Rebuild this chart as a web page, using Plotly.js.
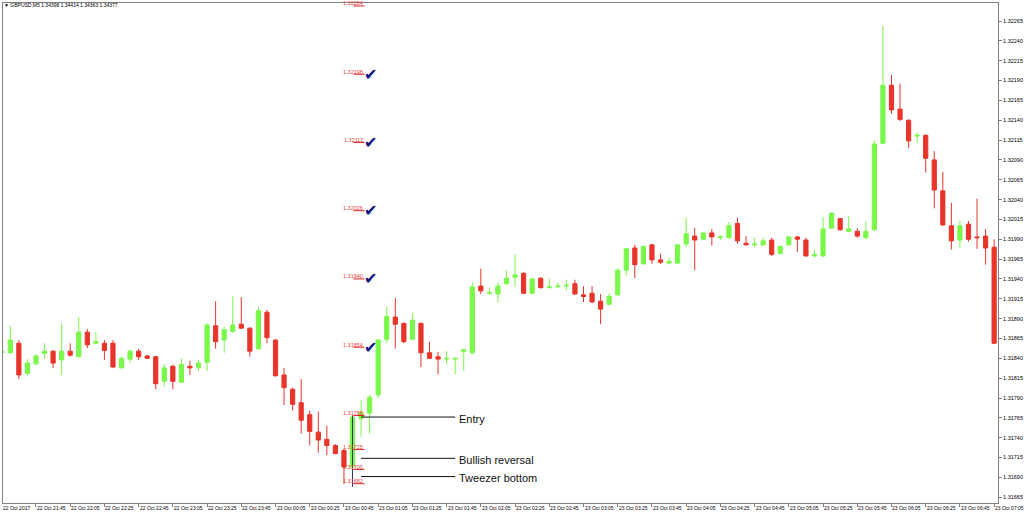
<!DOCTYPE html>
<html><head><meta charset="utf-8">
<script src="https://cdn.plot.ly/plotly-3.0.1.min.js"></script>
<style>html,body{margin:0;padding:0;background:#fff;}#chart{width:1024px;height:515px;}</style>
</head><body><div id="chart"></div>
<script>
const symbolTitle = '▼ GBPUSD,M5 1.34398 1.34414 1.34363 1.34377';

const opens = [
1.31847,1.31847,1.31859,1.31821,1.31833,1.31846,1.31849,1.31838,1.31849,1.31842,
1.31873,1.31859,1.31859,1.31859,1.31828,1.31839,1.31849,1.31843,1.31842,1.31811,
1.31830,1.31810,1.31830,1.31828,1.31835,1.31881,1.31863,1.31874,1.31883,1.31878,
1.31852,1.31898,1.31863,1.31819,1.31801,1.31784,1.31769,1.31747,1.31738,1.31730,
1.31724,1.31703,1.31764,1.31771,1.31794,1.31864,1.31892,1.31884,1.31864,1.31884,
1.31847,1.31842,1.31839,1.31839,1.31849,1.31847,1.31931,1.31922,1.31921,1.31934,
1.31942,1.31947,1.31922,1.31941,1.31929,1.31930,1.31931,1.31934,1.31920,1.31922,
1.31912,1.31908,1.31920,1.31951,1.31979,1.31959,1.31983,1.31964,1.31960,1.31960,
1.31984,1.31994,1.31990,1.31998,1.31992,1.31992,1.32010,1.31985,1.31983,1.31983,
1.31989,1.31972,1.31983,1.31993,1.31989,1.31969,1.31969,1.32004,1.32016,1.32000,
1.32000,1.31992,1.32002,1.32111,1.32184,1.32154,1.32140,1.32120,1.32121,1.32090,
1.32051,1.32007,1.31989,1.32009,1.31993,1.31994,1.31980];
const highs = [
1.31851,1.31881,1.31863,1.31839,1.31845,1.31859,1.31850,1.31884,1.31859,1.31892,
1.31877,1.31873,1.31863,1.31863,1.31842,1.31851,1.31852,1.31844,1.31843,1.31833,
1.31832,1.31840,1.31837,1.31838,1.31884,1.31912,1.31880,1.31918,1.31917,1.31879,
1.31905,1.31901,1.31864,1.31828,1.31803,1.31814,1.31774,1.31773,1.31755,1.31732,
1.31726,1.31768,1.31787,1.31794,1.31864,1.31905,1.31916,1.31885,1.31897,1.31885,
1.31861,1.31848,1.31849,1.31841,1.31852,1.31936,1.31953,1.31929,1.31936,1.31951,
1.31971,1.31949,1.31941,1.31942,1.31940,1.31935,1.31939,1.31939,1.31931,1.31931,
1.31921,1.31922,1.31954,1.31979,1.31983,1.31982,1.31984,1.31972,1.31967,1.31984,
1.32017,1.32004,1.31999,1.32003,1.31995,1.32012,1.32017,1.31994,1.31992,1.31992,
1.31992,1.31982,1.31994,1.31994,1.31992,1.31977,1.32018,1.32024,1.32017,1.32019,
1.32004,1.32012,1.32115,1.32259,1.32197,1.32186,1.32141,1.32125,1.32122,1.32101,
1.32075,1.32036,1.32014,1.32013,1.32041,1.32003,1.31990];
const lows = [
1.31846,1.31846,1.31814,1.31818,1.31831,1.31839,1.31828,1.31819,1.31842,1.31841,
1.31853,1.31858,1.31838,1.31828,1.31827,1.31834,1.31838,1.31839,1.31801,1.31804,
1.31801,1.31809,1.31819,1.31824,1.31824,1.31852,1.31847,1.31872,1.31877,1.31842,
1.31851,1.31859,1.31817,1.31781,1.31774,1.31745,1.31730,1.31721,1.31718,1.31719,
1.31682,1.31682,1.31741,1.31745,1.31790,1.31859,1.31852,1.31859,1.31863,1.31829,
1.31839,1.31820,1.31832,1.31820,1.31824,1.31845,1.31921,1.31920,1.31910,1.31932,
1.31930,1.31921,1.31921,1.31928,1.31928,1.31928,1.31926,1.31920,1.31911,1.31910,
1.31883,1.31907,1.31918,1.31944,1.31941,1.31958,1.31959,1.31959,1.31958,1.31959,
1.31980,1.31951,1.31989,1.31982,1.31989,1.31990,1.31984,1.31982,1.31980,1.31982,
1.31969,1.31971,1.31982,1.31974,1.31968,1.31967,1.31968,1.32003,1.32001,1.31999,
1.31992,1.31990,1.32000,1.32110,1.32148,1.32139,1.32105,1.32111,1.32074,1.32029,
1.32007,1.31977,1.31979,1.31987,1.31978,1.31958,1.31858];
const closes = [
1.31849,1.31863,1.31819,1.31834,1.31843,1.31849,1.31834,1.31849,1.31844,1.31873,
1.31857,1.31861,1.31850,1.31829,1.31840,1.31849,1.31842,1.31840,1.31808,1.31828,
1.31811,1.31832,1.31828,1.31834,1.31882,1.31861,1.31876,1.31882,1.31878,1.31849,
1.31900,1.31866,1.31818,1.31803,1.31782,1.31762,1.31748,1.31737,1.31730,1.31720,
1.31703,1.31766,1.31772,1.31791,1.31863,1.31893,1.31883,1.31861,1.31888,1.31847,
1.31840,1.31839,1.31840,1.31840,1.31851,1.31930,1.31925,1.31923,1.31931,1.31941,
1.31945,1.31922,1.31940,1.31929,1.31930,1.31931,1.31932,1.31921,1.31918,1.31911,
1.31902,1.31918,1.31951,1.31978,1.31958,1.31981,1.31964,1.31961,1.31962,1.31983,
1.31997,1.31989,1.31998,1.31993,1.31993,1.32007,1.31988,1.31983,1.31984,1.31988,
1.31971,1.31981,1.31993,1.31990,1.31969,1.31971,1.32003,1.32023,1.32002,1.32003,
1.31994,1.32000,1.32110,1.32184,1.32153,1.32141,1.32114,1.32121,1.32092,1.32052,
1.32008,1.31988,1.32007,1.31990,1.31992,1.31979,1.31859];

const timeLabels = ["22 Oct 2017","22 Oct 21:45","22 Oct 22:05","22 Oct 22:25","22 Oct 22:45","22 Oct 23:05","22 Oct 23:25","22 Oct 23:45","23 Oct 00:05","23 Oct 00:25","23 Oct 00:45","23 Oct 01:05","23 Oct 01:25","23 Oct 01:45","23 Oct 02:05","23 Oct 02:25","23 Oct 02:45","23 Oct 03:05","23 Oct 03:25","23 Oct 03:45","23 Oct 04:05","23 Oct 04:25","23 Oct 04:45","23 Oct 05:05","23 Oct 05:25","23 Oct 05:45","23 Oct 06:05","23 Oct 06:25","23 Oct 06:45","23 Oct 07:05"];
const timeLabelIdx = [0,4,8,12,16,20,24,28,32,36,40,44,48,52,56,60,64,68,72,76,80,84,88,92,96,100,104,108,112,116];

const yTickVals = [1.31665,1.31690,1.31715,1.31740,1.31765,1.31790,1.31815,1.31840,1.31865,1.31890,1.31915,1.31940,1.31965,1.31990,1.32015,1.32040,1.32065,1.32090,1.32115,1.32140,1.32165,1.32190,1.32215,1.32240,1.32265];

const levelValues = [1.32284,1.32198,1.32112,1.32026,1.31940,1.31854,1.31768,1.31725,1.31700,1.31682];
const levelChecked = [false,true,true,true,true,true,false,false,false,false];

const calloutTexts = ['Entry','Bullish reversal','Tweezer bottom'];
const calloutPrices = [1.31766,1.31714,1.31691];
const signalBar = 41;

const GREEN = '#7AF84A', RED = '#E8342A';
const FONT = 'Liberation Sans, Arial, sans-serif';
const xRange = [0.146, 116.45];
const xs = opens.map((_, i) => i);

const trace = {
  type: 'candlestick', x: xs, open: opens, high: highs, low: lows, close: closes,
  increasing: {line: {color: GREEN, width: 1}, fillcolor: GREEN},
  decreasing: {line: {color: RED, width: 1}, fillcolor: RED},
  whiskerwidth: 0, hoverinfo: 'skip', showlegend: false
};

const annotations = [];
const shapes = [];
const toPaper = v => (v - xRange[0]) / (xRange[1] - xRange[0]);

timeLabels.forEach((t, k) => {
  annotations.push({xref: 'paper', yref: 'paper', x: toPaper(timeLabelIdx[k]), y: 0,
    xanchor: 'left', yanchor: 'top', yshift: -1, xshift: 0, borderpad: 0, showarrow: false,
    text: t, font: {family: FONT, size: 5, color: '#000'}});
});

levelValues.forEach((v, k) => {
  annotations.push({xref: 'x', yref: 'y', x: 42.4, y: v, xanchor: 'right', yanchor: 'middle',
    yshift: 2.5, borderpad: 0, showarrow: false, text: v.toFixed(5),
    font: {family: FONT, size: 5.5, color: '#F03C3C'}});
  shapes.push({type: 'line', xref: 'x', yref: 'y', x0: 41.1, x1: 42.4, y0: v, y1: v,
    line: {color: '#E02020', width: 1}});
  if (levelChecked[k]) {
    annotations.push({xref: 'x', yref: 'y', x: 43.1, y: v, xanchor: 'center', yanchor: 'middle',
      yshift: 0, borderpad: 0, showarrow: false, text: '✔',
      font: {family: 'DejaVu Sans', size: 16, color: '#12127A'}});
  }
});

shapes.push({type: 'line', xref: 'x', yref: 'y', x0: signalBar, x1: signalBar,
  y0: levelValues[6], y1: levelValues[9] - 0.00004, line: {color: '#353570', width: 1}});

calloutTexts.forEach((t, k) => {
  shapes.push({type: 'line', xref: 'x', yref: 'y', x0: 42.0, x1: 53.0,
    y0: calloutPrices[k], y1: calloutPrices[k], line: {color: '#111', width: 1}});
  annotations.push({xref: 'x', yref: 'y', x: 53.3, y: calloutPrices[k], xanchor: 'left',
    yanchor: 'middle', yshift: -1.5, borderpad: 0, showarrow: false, text: t,
    font: {family: FONT, size: 11, color: '#111'}});
});

const layout = {
  width: 1024, height: 515,
  margin: {l: 3, r: 26, t: 3, b: 12, pad: 0},
  paper_bgcolor: '#fff', plot_bgcolor: '#fff',
  showlegend: false, hovermode: false,
  title: {text: symbolTitle, font: {family: FONT, size: 5, color: '#000'},
    xref: 'container', yref: 'container', x: 4/1024, xanchor: 'left', y: 1 - 5.5/515, yanchor: 'middle'},
  xaxis: {range: xRange, rangeslider: {visible: false}, tickvals: timeLabelIdx, showticklabels: false,
    ticks: 'outside', ticklen: 3, tickcolor: '#808080', showline: true, mirror: true,
    linecolor: '#808080', linewidth: 1, showgrid: false, zeroline: false, fixedrange: true},
  yaxis: {side: 'right', range: [1.316577, 1.322877], tickvals: yTickVals, tickformat: '.5f',
    ticks: 'outside', ticklen: 3, tickcolor: '#808080',
    tickfont: {family: FONT, size: 5.5, color: '#000'},
    showline: true, mirror: true, linecolor: '#808080', linewidth: 1,
    showgrid: false, zeroline: false, fixedrange: true},
  annotations: annotations, shapes: shapes
};

Plotly.newPlot('chart', [trace], layout, {staticPlot: true, displayModeBar: false});
</script></body></html>
